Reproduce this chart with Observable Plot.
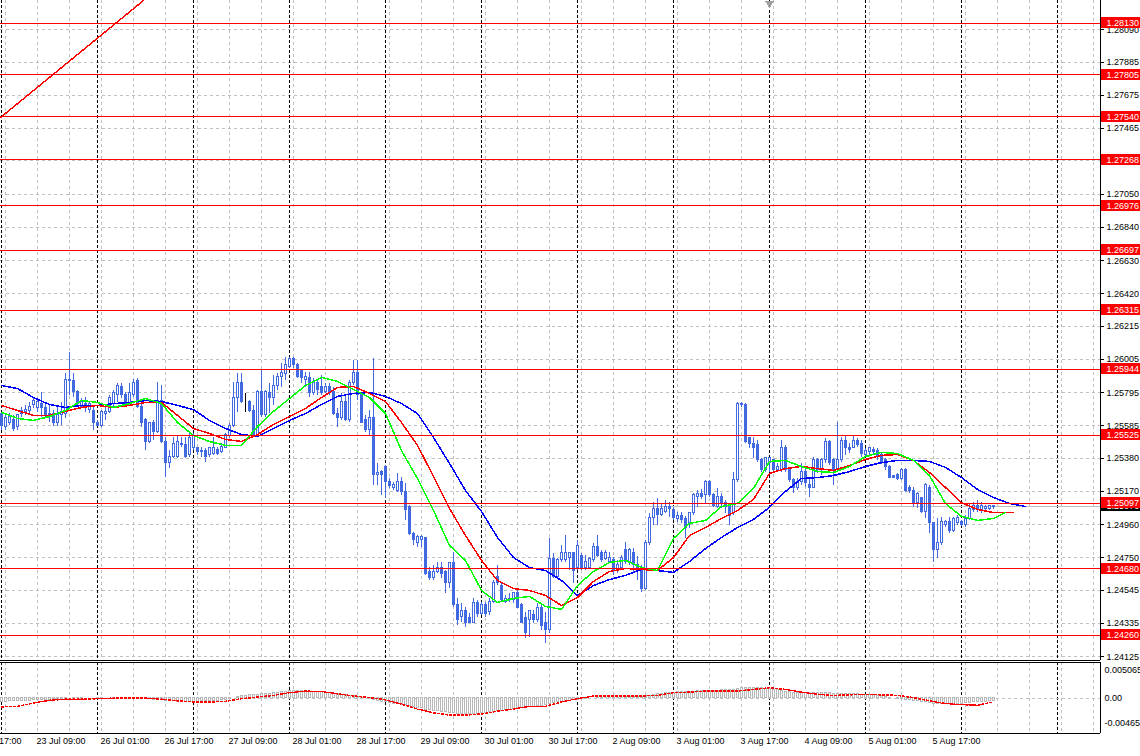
<!DOCTYPE html>
<html><head><meta charset="utf-8">
<script src="https://cdn.jsdelivr.net/npm/d3@7"></script>
<script src="https://cdn.jsdelivr.net/npm/@observablehq/plot@0.6"></script>
<style>
html,body{margin:0;padding:0;background:#fff;}
#chart{width:1140px;height:756px;position:relative;overflow:hidden;background:#fff;}
#chart svg{display:block;}
#chart svg line, #chart svg rect, #chart svg path{shape-rendering:crispEdges;}
</style></head><body><div id="chart"></div>
<script>
// ---------- DATA (H1 candles, bar 0 = 23 Jul 00:00) ----------
const open = [
1.25657,1.25575,1.25606,1.25625,1.25575,1.25657,1.25670,1.25682,1.25714,1.25701,
1.25726,1.25701,1.25663,1.25657,1.25600,1.25651,1.25657,1.25872,1.25866,1.25796,
1.25707,1.25726,1.25688,1.25676,1.25600,1.25587,1.25663,1.25670,1.25726,1.25777,
1.25828,1.25777,1.25726,1.25777,1.25866,1.25707,1.25619,1.25480,1.25600,1.25543,
1.25745,1.25480,1.25353,1.25385,1.25391,1.25473,1.25461,1.25398,1.25442,1.25442,
1.25417,1.25423,1.25398,1.25410,1.25435,1.25417,1.25448,1.25518,1.25587,1.25758,
1.25853,1.25733,1.25733,1.25682,1.25524,1.25796,1.25651,1.25790,1.25764,1.25834,
1.25891,1.25916,1.25960,1.26005,1.25967,1.25929,1.25872,1.25885,1.25790,1.25853,
1.25828,1.25796,1.25828,1.25796,1.25663,1.25632,1.25733,1.25619,1.25859,1.25922,
1.25777,1.25619,1.25556,1.25632,1.25271,1.25290,1.25322,1.25233,1.25189,1.25176,
1.25227,1.25164,1.25069,1.24904,1.24847,1.24860,1.24873,1.24658,1.24620,1.24658,
1.24689,1.24658,1.24594,1.24715,1.24449,1.24373,1.24417,1.24367,1.24341,1.24462,
1.24398,1.24449,1.24405,1.24468,1.24626,1.24575,1.24468,1.24481,1.24481,1.24525,
1.24449,1.24367,1.24354,1.24386,1.24354,1.24436,1.24335,1.24291,1.24746,1.24626,
1.24734,1.24734,1.24752,1.24778,1.24683,1.24765,1.24683,1.24689,1.24734,1.24816,
1.24778,1.24746,1.24721,1.24734,1.24670,1.24689,1.24797,1.24721,1.24784,1.24683,
1.24689,1.24556,1.24847,1.25005,1.25062,1.25024,1.25037,1.25069,1.25050,1.24999,
1.25018,1.24999,1.24968,1.25031,1.25132,1.25157,1.25145,1.25227,1.25145,1.25069,
1.25132,1.25100,1.25069,1.25031,1.25240,1.25714,1.25714,1.25505,1.25473,1.25461,
1.25366,1.25303,1.25353,1.25366,1.25303,1.25303,1.25448,1.25315,1.25240,1.25189,
1.25227,1.25290,1.25214,1.25195,1.25366,1.25303,1.25366,1.25480,1.25366,1.25303,
1.25366,1.25492,1.25448,1.25448,1.25492,1.25473,1.25398,1.25417,1.25435,1.25429,
1.25398,1.25366,1.25322,1.25265,1.25271,1.25252,1.25303,1.25189,1.25176,1.25094,
1.25126,1.25037,1.25189,1.24968,1.24797,1.24841,1.24955,1.24974,1.24923,1.24968,
1.24974,1.24955,1.24999,1.25050,1.25081,1.25050,1.25062,1.25062,1.25069];
const high = [
1.25670,1.25657,1.25663,1.25651,1.25657,1.25701,1.25714,1.25733,1.25764,1.25758,
1.25796,1.25733,1.25714,1.25682,1.25701,1.25733,1.25916,1.26049,1.25916,1.25809,
1.25758,1.25764,1.25733,1.25701,1.25619,1.25682,1.25701,1.25777,1.25809,1.25853,
1.25853,1.25796,1.25853,1.25878,1.25885,1.25726,1.25632,1.25606,1.25619,1.25859,
1.25840,1.25511,1.25429,1.25511,1.25524,1.25511,1.25511,1.25537,1.25537,1.25448,
1.25448,1.25442,1.25448,1.25511,1.25448,1.25473,1.25537,1.25600,1.25859,1.25916,
1.25916,1.25790,1.25745,1.25714,1.25809,1.25935,1.25809,1.25853,1.25904,1.25916,
1.25979,1.26017,1.26017,1.26017,1.25979,1.25935,1.25922,1.25922,1.25885,1.25872,
1.25904,1.25853,1.25853,1.25828,1.25695,1.25790,1.25777,1.25872,1.25998,1.25998,
1.25790,1.25651,1.25682,1.26011,1.25347,1.25303,1.25334,1.25252,1.25227,1.25284,
1.25258,1.25221,1.25081,1.24911,1.24892,1.24892,1.24879,1.24689,1.24702,1.24721,
1.24721,1.24670,1.24721,1.24784,1.24493,1.24462,1.24436,1.24398,1.24493,1.24481,
1.24468,1.24468,1.24493,1.24607,1.24702,1.24588,1.24512,1.24525,1.24531,1.24544,
1.24462,1.24405,1.24417,1.24417,1.24462,1.24449,1.24405,1.24873,1.24778,1.24746,
1.24828,1.24892,1.24784,1.24784,1.24860,1.24778,1.24765,1.24752,1.24841,1.24892,
1.24797,1.24797,1.24784,1.24752,1.24734,1.24765,1.24847,1.24809,1.24809,1.24759,
1.24702,1.24860,1.25031,1.25100,1.25126,1.25094,1.25113,1.25100,1.25069,1.25037,
1.25037,1.25012,1.25037,1.25157,1.25176,1.25183,1.25240,1.25240,1.25157,1.25189,
1.25157,1.25113,1.25094,1.25290,1.25733,1.25733,1.25726,1.25511,1.25511,1.25492,
1.25379,1.25385,1.25385,1.25372,1.25347,1.25492,1.25461,1.25322,1.25252,1.25252,
1.25347,1.25315,1.25258,1.25385,1.25379,1.25379,1.25505,1.25492,1.25379,1.25606,
1.25511,1.25524,1.25473,1.25524,1.25505,1.25492,1.25442,1.25448,1.25448,1.25442,
1.25410,1.25379,1.25334,1.25271,1.25284,1.25315,1.25315,1.25208,1.25195,1.25164,
1.25132,1.25221,1.25208,1.24974,1.24999,1.25005,1.24987,1.25005,1.25005,1.25018,
1.24987,1.25018,1.25094,1.25100,1.25113,1.25100,1.25081,1.25081,1.25081];
const low = [
1.25556,1.25556,1.25587,1.25549,1.25556,1.25638,1.25651,1.25663,1.25695,1.25670,
1.25638,1.25632,1.25606,1.25581,1.25581,1.25587,1.25632,1.25777,1.25764,1.25701,
1.25695,1.25670,1.25663,1.25556,1.25581,1.25575,1.25619,1.25663,1.25701,1.25733,
1.25758,1.25714,1.25714,1.25764,1.25695,1.25575,1.25429,1.25473,1.25492,1.25537,
1.25473,1.25258,1.25315,1.25379,1.25379,1.25448,1.25379,1.25385,1.25429,1.25398,
1.25385,1.25353,1.25385,1.25398,1.25398,1.25410,1.25442,1.25505,1.25575,1.25670,
1.25726,1.25670,1.25670,1.25511,1.25511,1.25638,1.25638,1.25663,1.25714,1.25809,
1.25828,1.25872,1.25948,1.25948,1.25885,1.25853,1.25828,1.25764,1.25777,1.25777,
1.25777,1.25790,1.25777,1.25651,1.25575,1.25619,1.25613,1.25606,1.25840,1.25745,
1.25600,1.25543,1.25524,1.25208,1.25208,1.25145,1.25126,1.25189,1.25176,1.25164,
1.25145,1.24987,1.24892,1.24828,1.24816,1.24816,1.24639,1.24607,1.24607,1.24651,
1.24620,1.24525,1.24556,1.24436,1.24322,1.24341,1.24310,1.24335,1.24335,1.24373,
1.24386,1.24373,1.24386,1.24462,1.24575,1.24468,1.24462,1.24468,1.24462,1.24430,
1.24335,1.24240,1.24247,1.24335,1.24341,1.24291,1.24209,1.24272,1.24620,1.24620,
1.24721,1.24721,1.24670,1.24588,1.24670,1.24670,1.24670,1.24683,1.24721,1.24752,
1.24721,1.24734,1.24715,1.24639,1.24651,1.24670,1.24708,1.24702,1.24658,1.24607,
1.24531,1.24544,1.24828,1.24955,1.24955,1.25012,1.25031,1.25005,1.24987,1.24974,
1.24968,1.24873,1.24936,1.25018,1.25069,1.25119,1.25094,1.25132,1.25069,1.25062,
1.25062,1.25031,1.24955,1.25018,1.25227,1.25701,1.25473,1.25442,1.25379,1.25353,
1.25290,1.25290,1.25290,1.25290,1.25290,1.25290,1.25290,1.25227,1.25157,1.25176,
1.25208,1.25195,1.25132,1.25189,1.25284,1.25271,1.25347,1.25334,1.25208,1.25290,
1.25353,1.25398,1.25410,1.25442,1.25448,1.25385,1.25385,1.25398,1.25404,1.25366,
1.25341,1.25303,1.25252,1.25252,1.25240,1.25240,1.25164,1.25157,1.25069,1.25062,
1.25031,1.24999,1.24904,1.24721,1.24746,1.24828,1.24942,1.24904,1.24911,1.24955,
1.24949,1.24942,1.24987,1.25037,1.25037,1.25031,1.25043,1.25050,1.25056];
const close = [
1.25581,1.25632,1.25638,1.25568,1.25651,1.25676,1.25688,1.25707,1.25739,1.25733,
1.25701,1.25651,1.25644,1.25600,1.25651,1.25670,1.25872,1.25866,1.25796,1.25726,
1.25733,1.25701,1.25726,1.25600,1.25587,1.25670,1.25670,1.25764,1.25790,1.25840,
1.25777,1.25726,1.25790,1.25859,1.25707,1.25606,1.25480,1.25600,1.25543,1.25745,
1.25480,1.25347,1.25385,1.25473,1.25480,1.25461,1.25385,1.25511,1.25518,1.25417,
1.25429,1.25385,1.25442,1.25442,1.25410,1.25454,1.25524,1.25587,1.25758,1.25853,
1.25733,1.25733,1.25682,1.25524,1.25796,1.25651,1.25796,1.25764,1.25840,1.25891,
1.25922,1.25967,1.26005,1.25967,1.25891,1.25885,1.25891,1.25790,1.25853,1.25809,
1.25790,1.25828,1.25796,1.25663,1.25632,1.25733,1.25619,1.25859,1.25922,1.25777,
1.25606,1.25556,1.25632,1.25271,1.25284,1.25277,1.25227,1.25202,1.25214,1.25227,
1.25164,1.25050,1.24904,1.24860,1.24879,1.24879,1.24651,1.24620,1.24658,1.24689,
1.24651,1.24594,1.24715,1.24449,1.24354,1.24417,1.24341,1.24341,1.24462,1.24398,
1.24449,1.24398,1.24468,1.24594,1.24588,1.24481,1.24493,1.24493,1.24525,1.24436,
1.24341,1.24278,1.24417,1.24354,1.24436,1.24322,1.24291,1.24746,1.24626,1.24734,
1.24784,1.24778,1.24778,1.24670,1.24828,1.24683,1.24721,1.24746,1.24816,1.24765,
1.24734,1.24784,1.24752,1.24670,1.24702,1.24752,1.24721,1.24797,1.24702,1.24702,
1.24556,1.24847,1.25005,1.25062,1.25024,1.25062,1.25069,1.25062,1.25005,1.25018,
1.24987,1.24936,1.25031,1.25145,1.25157,1.25132,1.25227,1.25145,1.25081,1.25132,
1.25094,1.25069,1.25018,1.25240,1.25726,1.25726,1.25480,1.25473,1.25448,1.25366,
1.25303,1.25379,1.25379,1.25303,1.25322,1.25448,1.25303,1.25240,1.25189,1.25227,
1.25290,1.25221,1.25195,1.25366,1.25303,1.25366,1.25480,1.25347,1.25303,1.25366,
1.25492,1.25448,1.25435,1.25492,1.25461,1.25410,1.25429,1.25442,1.25417,1.25385,
1.25353,1.25322,1.25258,1.25258,1.25252,1.25303,1.25176,1.25176,1.25094,1.25157,
1.25037,1.25208,1.24968,1.24797,1.24847,1.24974,1.24974,1.24923,1.24999,1.25005,
1.24961,1.24999,1.25062,1.25081,1.25050,1.25075,1.25069,1.25075,1.25075];

// Alligator lines (sampled every 4 bars, shifted forward)
const jawBars = d3.range(0, 257, 4);
const jaw = [1.25840,1.25821,1.25764,1.25720,1.25701,1.25714,1.25714,1.25726,1.25733,1.25745,
1.25739,1.25714,1.25688,1.25619,1.25568,1.25530,1.25518,1.25568,1.25619,1.25663,
1.25720,1.25771,1.25790,1.25796,1.25771,1.25726,1.25663,1.25511,1.25347,1.25176,
1.25043,1.24879,1.24752,1.24689,1.24670,1.24607,1.24512,1.24575,1.24613,1.24639,
1.24677,1.24670,1.24658,1.24727,1.24809,1.24879,1.24942,1.24993,1.25069,1.25170,
1.25252,1.25258,1.25271,1.25296,1.25328,1.25353,1.25366,1.25366,1.25360,1.25322,
1.25258,1.25183,1.25132,1.25094,1.25075];
const teethBars = [...d3.range(0, 249, 4), 253];
const teeth = [1.25714,1.25682,1.25651,1.25651,1.25676,1.25701,1.25714,1.25701,1.25714,1.25733,
1.25733,1.25651,1.25568,1.25537,1.25499,1.25486,1.25530,1.25594,1.25644,1.25695,
1.25764,1.25828,1.25834,1.25790,1.25739,1.25606,1.25461,1.25265,1.25062,1.24892,
1.24734,1.24607,1.24556,1.24544,1.24512,1.24449,1.24499,1.24601,1.24664,1.24683,
1.24677,1.24670,1.24752,1.24892,1.24942,1.24999,1.25050,1.25119,1.25284,1.25315,
1.25328,1.25315,1.25303,1.25334,1.25372,1.25398,1.25404,1.25366,1.25290,1.25195,
1.25100,1.25056,1.25037,1.25037];
const lipsBars = [...d3.range(0, 249, 4), 251];
const lips = [1.25670,1.25632,1.25619,1.25644,1.25682,1.25745,1.25733,1.25701,1.25726,1.25758,
1.25726,1.25606,1.25524,1.25486,1.25461,1.25461,1.25581,1.25676,1.25758,1.25840,
1.25891,1.25866,1.25815,1.25764,1.25663,1.25429,1.25252,1.25050,1.24828,1.24734,
1.24544,1.24468,1.24493,1.24506,1.24443,1.24424,1.24575,1.24664,1.24721,1.24734,
1.24689,1.24670,1.24873,1.24968,1.24987,1.25075,1.25094,1.25189,1.25360,1.25366,
1.25328,1.25296,1.25290,1.25328,1.25391,1.25417,1.25410,1.25366,1.25271,1.25094,
1.25012,1.24987,1.24999,1.25037];

// MACD panel
const macdHist = [
-0.0007,-0.0007,-0.0006,-0.0006,-0.0006,-0.0005,-0.0005,-0.0005,-0.0004,-0.0004,
-0.0004,-0.0003,-0.0003,-0.0002,-0.0002,-0.0002,-0.0001,0,0.0001,0.0001,
0.0001,0,0,0,-0.0001,-0.0001,0,0,0.0001,0.0001,
0.0001,0.0001,0.0001,0.0001,0.0001,0,-0.0001,-0.0002,-0.0003,-0.0003,
-0.0004,-0.0005,-0.0006,-0.0006,-0.0007,-0.0007,-0.0007,-0.0007,-0.0007,-0.0007,
-0.0006,-0.0006,-0.0006,-0.0005,-0.0005,-0.0004,-0.0003,-0.0002,0,0.0002,
0.0003,0.0004,0.0005,0.0005,0.0006,0.0007,0.0007,0.0008,0.0009,0.0010,
0.0011,0.0012,0.0013,0.0013,0.0013,0.0013,0.0013,0.0012,0.0012,0.0011,
0.0011,0.0010,0.0009,0.0008,0.0007,0.0006,0.0005,0.0004,0.0003,0.0002,
0.0001,0,-0.0001,-0.0003,-0.0005,-0.0007,-0.0008,-0.0009,-0.0010,-0.0011,
-0.0012,-0.0013,-0.0015,-0.0016,-0.0018,-0.0019,-0.0021,-0.0022,-0.0023,-0.0024,
-0.0025,-0.0026,-0.0027,-0.0028,-0.0029,-0.0030,-0.0030,-0.0030,-0.0029,-0.0029,
-0.0028,-0.0027,-0.0026,-0.0025,-0.0024,-0.0023,-0.0022,-0.0021,-0.0020,-0.0019,
-0.0019,-0.0018,-0.0017,-0.0016,-0.0015,-0.0014,-0.0013,-0.0011,-0.0009,-0.0008,
-0.0007,-0.0006,-0.0005,-0.0004,-0.0003,-0.0002,-0.0001,0,0,0.0001,
0.0001,0.0001,0.0001,0.0001,0.0001,0.0001,0.0002,0.0002,0.0002,0.0002,
0.0002,0.0003,0.0004,0.0006,0.0007,0.0008,0.0009,0.0010,0.0010,0.0011,
0.0011,0.0011,0.0012,0.0012,0.0013,0.0013,0.0013,0.0013,0.0013,0.0013,
0.0014,0.0014,0.0014,0.0015,0.0016,0.0018,0.0019,0.0019,0.0019,0.0018,
0.0018,0.0017,0.0016,0.0015,0.0014,0.0013,0.0012,0.0011,0.0010,0.0010,
0.0009,0.0009,0.0009,0.0009,0.0009,0.0009,0.0009,0.0009,0.0008,0.0008,
0.0008,0.0008,0.0008,0.0007,0.0007,0.0006,0.0006,0.0005,0.0005,0.0004,
0.0003,0.0002,0.0001,0,-0.0001,-0.0002,-0.0003,-0.0004,-0.0005,-0.0006,
-0.0007,-0.0008,-0.0009,-0.0010,-0.0011,-0.0011,-0.0011,-0.0011,-0.0011,-0.0010,
-0.0010,-0.0009,-0.0009,-0.0008,-0.0008,-0.0007,-0.0007,-0.0006,-0.0006];
const signalBars = d3.range(0, 249, 4);
const macdSignal = [-0.0016,-0.0015,-0.0009,-0.0004,-0.0002,-0.0002,-0.0001,0,0,0,
-0.0002,-0.0005,-0.0007,-0.0007,-0.0006,-0.0001,0.0002,0.0005,0.0010,0.0013,
0.0012,0.0008,0.0004,0.0001,-0.0003,-0.0011,-0.0020,-0.0027,-0.0031,-0.0031,
-0.0029,-0.0024,-0.0020,-0.0015,-0.0015,-0.0007,-0.0001,0.0004,0.0004,0.0004,
0.0004,0.0005,0.0010,0.0011,0.0013,0.0013,0.0013,0.0016,0.0019,0.0016,
0.0011,0.0007,0.0005,0.0006,0.0007,0.0006,0.0005,0.0001,-0.0005,-0.0010,
-0.0012,-0.0013,-0.0007];
const macdTicks = [0.005065, 0, -0.00465];
const macdTickText = ["0.005065", "0.00", "-0.00465"];

// Levels, ticks, labels
const levels = [1.28130,1.27805,1.27540,1.27268,1.26976,1.26697,1.26315,1.25944,1.25525,1.25097,1.24680,1.24260];
const priceTicks = [1.28090,1.27885,1.27675,1.27465,1.27260,1.27050,1.26840,1.26630,1.26420,1.26215,
1.26005,1.25795,1.25585,1.25380,1.25170,1.24960,1.24750,1.24545,1.24335,1.24125];
const bid = 1.25076;
const trendBars = [-0.25, 35.5];
const trendPrices = [1.27535, 1.28275];
const shiftMarkBar = 192;
const daySeps = d3.range(0, 265, 24);
const gridBars = d3.range(1, 274, 8);
const timeBars = [-7, 9, 25, 41, 57, 73, 89, 105, 121, 137, 153, 169, 185, 201, 217, 233];
const timeText = ["22 Jul 17:00","23 Jul 09:00","26 Jul 01:00","26 Jul 17:00","27 Jul 09:00","28 Jul 01:00",
"28 Jul 17:00","29 Jul 09:00","30 Jul 01:00","30 Jul 17:00","2 Aug 09:00","3 Aug 01:00","3 Aug 17:00",
"4 Aug 09:00","5 Aug 01:00","5 Aug 17:00"];

// ---------- DRAWING ----------
const BLUE = "#4169e1", RED = "#ff0000", GRID = "#c0c0c0";
const bars = open.map((o, i) => ({i, o, h: high[i], l: low[i], c: close[i]}));
const candleColor = d => d.o === d.c ? "#000" : BLUE;
const xDom = [-0.25, 274.75];
const yMin = 1.24101, yMax = 1.28275;
const pxP = (yMax - yMin) / 660;           // price per pixel in the main panel
const boxH = 5.5 * pxP;
const boxX1 = 275, boxX2 = 284.75;
const style = {fontFamily: "'Liberation Sans', Arial, sans-serif", fontSize: "9px", background: "white", overflow: "visible"};
const toLine = (xs, ys) => xs.map((b, k) => ({b, v: ys[k]}));

const main = Plot.plot({
  width: 1140, height: 662, marginLeft: 0, marginRight: 40, marginTop: 0, marginBottom: 2,
  x: {type: "linear", domain: xDom, axis: null},
  y: {type: "linear", domain: [yMin, yMax], axis: null},
  style,
  marks: [
    Plot.ruleY(priceTicks, {stroke: GRID, strokeDasharray: "3,3"}),
    Plot.ruleX(gridBars, {stroke: GRID, strokeDasharray: "3,3"}),
    Plot.ruleX(daySeps, {stroke: "#000", strokeDasharray: "3,2"}),
    Plot.ruleY([bid], {stroke: "#c0c0c0"}),
    Plot.ruleX(bars, {x: "i", y1: "l", y2: "h", stroke: candleColor}),
    Plot.rect(bars, {x1: d => d.i - 0.25, x2: d => d.i + 0.25, y1: "o", y2: "c",
      fill: d => d.c < d.o ? BLUE : "white", stroke: candleColor}),
    Plot.line(toLine(jawBars, jaw), {x: "b", y: "v", stroke: "#0000ff"}),
    Plot.line(toLine(teethBars, teeth), {x: "b", y: "v", stroke: RED}),
    Plot.line(toLine(lipsBars, lips), {x: "b", y: "v", stroke: "#00ff00"}),
    Plot.ruleY(levels, {stroke: RED}),
    Plot.line(toLine(trendBars, trendPrices), {x: "b", y: "v", stroke: RED, clip: true}),
    Plot.dot([shiftMarkBar], {x: d => d, y: () => yMax, symbol: "triangle", rotate: 180, r: 3.2, fill: "#a0a0a0", dy: 3}),
    Plot.ruleX([xDom[1]], {stroke: "#000"}),
    Plot.ruleY([yMin], {stroke: "#000"}),
    Plot.axisY({anchor: "right", ticks: priceTicks, tickFormat: d => d.toFixed(5), tickSize: 3, tickPadding: 3, fontSize: 9}),
    Plot.rect([bid], {x1: () => boxX1, x2: () => boxX2, y1: d => d - boxH, y2: d => d + boxH, fill: "#000"}),
    Plot.text([bid], {y: d => d, frameAnchor: "right", dx: 6, textAnchor: "start", text: d => d.toFixed(5), fill: "white"}),
    Plot.rect(levels, {x1: () => boxX1, x2: () => boxX2, y1: d => d - boxH, y2: d => d + boxH, fill: RED}),
    Plot.text(levels, {y: d => d, frameAnchor: "right", dx: 6, textAnchor: "start", text: d => d.toFixed(5), fill: "white"})
  ]
});

const mMin = -0.006483, mMax = 0.006531;
const histData = macdHist.map((v, i) => ({i, v}));
const macd = Plot.plot({
  width: 1140, height: 94, marginLeft: 0, marginRight: 40, marginTop: 0, marginBottom: 23,
  x: {type: "linear", domain: xDom, axis: null},
  y: {type: "linear", domain: [mMin, mMax], axis: null},
  style,
  marks: [
    Plot.ruleX(gridBars, {stroke: GRID, strokeDasharray: "3,3"}),
    Plot.ruleX(daySeps, {stroke: "#000", strokeDasharray: "3,2"}),
    Plot.ruleY([0], {stroke: GRID, strokeDasharray: "3,3"}),
    Plot.rect(histData, {x1: d => d.i - 0.25, x2: d => d.i + 0.25, y1: () => 0, y2: "v", stroke: "#b8b8b8", fill: "white"}),
    Plot.line(toLine(signalBars, macdSignal), {x: "b", y: "v", stroke: RED, strokeDasharray: "2,2"}),
    Plot.ruleY([mMax, mMin], {stroke: "#000"}),
    Plot.ruleX([xDom[1]], {stroke: "#000"}),
    Plot.text(macdTicks, {y: d => d, frameAnchor: "right", dx: 4, textAnchor: "start", text: (d, k) => macdTickText[k], fill: "#000"}),
    Plot.text(timeBars, {x: d => d, frameAnchor: "bottom", lineAnchor: "middle", dy: 8, dx: -1, textAnchor: "start", text: (d, k) => timeText[k], fill: "#000"})
  ]
});

const root = document.getElementById("chart");
root.appendChild(main);
root.appendChild(macd);
</script></body></html>
